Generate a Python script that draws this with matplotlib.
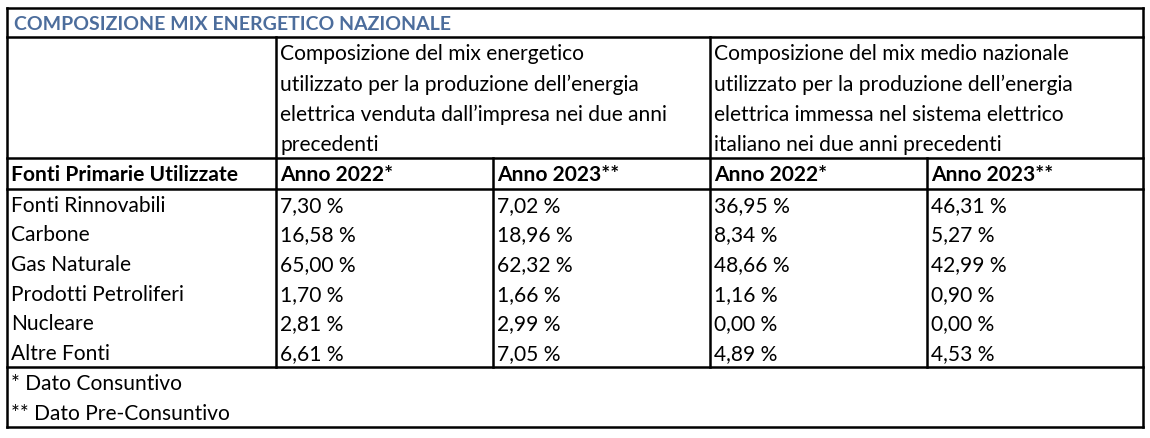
import matplotlib
matplotlib.use("Agg")
import matplotlib.pyplot as plt

title = "COMPOSIZIONE MIX ENERGETICO NAZIONALE"
header_left = ["Composizione del mix energetico",
               "utilizzato per la produzione dell\u2019energia",
               "elettrica venduta dall\u2019impresa nei due anni",
               "precedenti"]
header_right = ["Composizione del mix medio nazionale",
                "utilizzato per la produzione dell\u2019energia",
                "elettrica immessa nel sistema elettrico",
                "italiano nei due anni precedenti"]
col_labels = ["Fonti Primarie Utilizzate", "Anno 2022*", "Anno 2023**", "Anno 2022*", "Anno 2023**"]
categories = ["Fonti Rinnovabili", "Carbone", "Gas Naturale", "Prodotti Petroliferi", "Nucleare", "Altre Fonti"]
impresa_2022 = ["7,30 %", "16,58 %", "65,00 %", "1,70 %", "2,81 %", "6,61 %"]
impresa_2023 = ["7,02 %", "18,96 %", "62,32 %", "1,66 %", "2,99 %", "7,05 %"]
nazionale_2022 = ["36,95 %", "8,34 %", "48,66 %", "1,16 %", "0,00 %", "4,89 %"]
nazionale_2023 = ["46,31 %", "5,27 %", "42,99 %", "0,90 %", "0,00 %", "4,53 %"]
notes = ["* Dato Consuntivo", "** Dato Pre-Consuntivo"]

W, H = 1150, 439
fig = plt.figure(figsize=(W/100, H/100), dpi=100)
ax = fig.add_axes([0, 0, 1, 1])
ax.set_xlim(0, W)
ax.set_ylim(H, 0)
ax.axis("off")

FONT = "Lato"
FS = 15.1
FS_T = 14.0
lw = 1.8
col_x = [7, 276, 493, 710, 927, 1143]
y_top, y_title, y_head, y_anno, y_data, y_bot = 9, 38, 159, 190, 368, 428

def hline(y, x0=col_x[0], x1=col_x[-1]):
    ax.plot([x0, x1], [y, y], color="black", lw=lw, solid_capstyle="projecting")

def vline(x, y0, y1):
    ax.plot([x, x], [y0, y1], color="black", lw=lw, solid_capstyle="projecting")

for y in (y_top, y_title, y_head, y_anno, y_data, y_bot):
    hline(y)
vline(col_x[0], y_top, y_bot)
vline(col_x[-1], y_top, y_bot)
vline(col_x[1], y_title, y_data)
vline(col_x[3], y_title, y_data)
vline(col_x[2], y_head, y_data)
vline(col_x[4], y_head, y_data)

pad = 4
ax.text(col_x[0] + pad + 3, (y_top + y_title) / 2 + 1, title, fontsize=FS_T, family=FONT,
        weight="bold", color="#4c6d9c", va="center", ha="left")

line_h = (y_head - y_title) / 4
for i, (l, r) in enumerate(zip(header_left, header_right)):
    yc = y_title + line_h * (i + 0.5) + 1
    ax.text(col_x[1] + pad, yc, l, fontsize=FS, family=FONT, va="center", ha="left")
    ax.text(col_x[3] + pad, yc, r, fontsize=FS, family=FONT, va="center", ha="left")

for j, lab in enumerate(col_labels):
    ax.text(col_x[j] + pad, (y_head + y_anno) / 2 + 1, lab, fontsize=FS, family=FONT,
            weight="bold", va="center", ha="left")

row_h = (y_data - y_anno) / len(categories)
cols = [categories, impresa_2022, impresa_2023, nazionale_2022, nazionale_2023]
for i in range(len(categories)):
    yc = y_anno + row_h * (i + 0.5) + 1
    for j, col in enumerate(cols):
        ax.text(col_x[j] + pad, yc, col[i], fontsize=FS, family=FONT, va="center", ha="left")

note_h = (y_bot - y_data) / len(notes)
for i, n in enumerate(notes):
    ax.text(col_x[0] + pad, y_data + note_h * (i + 0.5) + 1, n, fontsize=FS, family=FONT,
            va="center", ha="left")

fig.savefig("out.png", dpi=100, facecolor="white")
